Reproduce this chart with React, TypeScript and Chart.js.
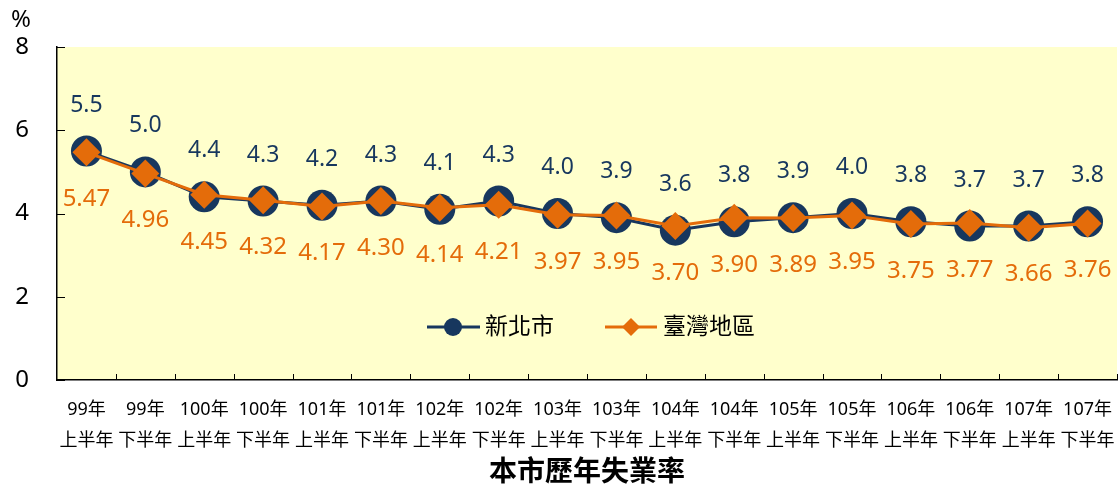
import React, { useEffect, useRef } from "react";
import { Chart, registerables } from "chart.js";

Chart.register(...registerables);

const yearLabels = ["99年","99年","100年","100年","101年","101年","102年","102年","103年","103年","104年","104年","105年","105年","106年","106年","107年","107年"];
const halfLabels = ["上半年","下半年","上半年","下半年","上半年","下半年","上半年","下半年","上半年","下半年","上半年","下半年","上半年","下半年","上半年","下半年","上半年","下半年"];
const newTaipei = [5.5,5.0,4.4,4.3,4.2,4.3,4.1,4.3,4.0,3.9,3.6,3.8,3.9,4.0,3.8,3.7,3.7,3.8];
const taiwan = [5.47,4.96,4.45,4.32,4.17,4.30,4.14,4.21,3.97,3.95,3.70,3.90,3.89,3.95,3.75,3.77,3.66,3.76];
const yTicks = [0,2,4,6,8];
const seriesNames = ["新北市","臺灣地區"];
const chartTitle = "本市歷年失業率";
const unitLabel = "%";

const NAVY = "#17375E";
const ORANGE = "#E46C0A";
const FONT = "'Noto Sans', 'Noto Sans CJK TC', sans-serif";

export default function App() {
  const ref = useRef<HTMLCanvasElement>(null);
  useEffect(() => {
    if (!ref.current) return;
    const decor = {
      id: "decor",
      beforeDraw(chart: any) {
        const { ctx, chartArea } = chart;
        ctx.save();
        ctx.fillStyle = "#FFFFCC";
        ctx.fillRect(chartArea.left, chartArea.top, chartArea.right - chartArea.left, chartArea.bottom - chartArea.top);
        ctx.restore();
      },
      afterDraw(chart: any) {
        const { ctx, chartArea, scales } = chart;
        const ys = scales.y;
        ctx.save();
        ctx.strokeStyle = "#000";
        ctx.lineWidth = 1;
        const n = yearLabels.length;
        const w = (chartArea.right - chartArea.left) / n;
        for (let i = 1; i <= n; i++) {
          const x = Math.round(chartArea.left + i * w) + 0.5;
          ctx.beginPath();
          ctx.moveTo(x, chartArea.bottom);
          ctx.lineTo(x, chartArea.bottom - 6);
          ctx.stroke();
        }
        yTicks.forEach((v) => {
          const y = Math.round(ys.getPixelForValue(v)) + 0.5;
          ctx.beginPath();
          ctx.moveTo(chartArea.left, y);
          ctx.lineTo(chartArea.left + 8, y);
          ctx.stroke();
        });
        ctx.fillStyle = "#000";
        ctx.font = `24px ${FONT}`;
        ctx.textAlign = "center";
        ctx.textBaseline = "middle";
        ctx.fillText(unitLabel, 21, 20);
        ctx.font = `bold 28px ${FONT}`;
        ctx.fillText(chartTitle, (chartArea.left + chartArea.right) / 2, 473);
        const ly = 327;
        ctx.lineWidth = 3;
        ctx.strokeStyle = NAVY;
        ctx.beginPath(); ctx.moveTo(427, ly); ctx.lineTo(480, ly); ctx.stroke();
        ctx.fillStyle = NAVY;
        ctx.beginPath(); ctx.arc(453, ly, 9, 0, Math.PI * 2); ctx.fill();
        ctx.strokeStyle = ORANGE;
        ctx.beginPath(); ctx.moveTo(605, ly); ctx.lineTo(657, ly); ctx.stroke();
        ctx.fillStyle = ORANGE;
        ctx.beginPath(); ctx.moveTo(631, ly - 9); ctx.lineTo(640, ly); ctx.lineTo(631, ly + 9); ctx.lineTo(622, ly); ctx.closePath(); ctx.fill();
        ctx.fillStyle = "#000";
        ctx.font = `23px ${FONT}`;
        ctx.textAlign = "left";
        ctx.fillText(seriesNames[0], 485, ly);
        ctx.fillText(seriesNames[1], 663, ly);
        ctx.restore();
      },
      afterDatasetsDraw(chart: any) {
        const { ctx } = chart;
        ctx.save();
        ctx.textAlign = "center";
        ctx.textBaseline = "middle";
        const m0 = chart.getDatasetMeta(0);
        const m1 = chart.getDatasetMeta(1);
        ctx.font = `23px ${FONT}`;
        ctx.fillStyle = NAVY;
        m0.data.forEach((p: any, i: number) => {
          ctx.fillText(newTaipei[i].toFixed(1), p.x, p.y - 46);
        });
        ctx.font = `24px ${FONT}`;
        ctx.fillStyle = ORANGE;
        m1.data.forEach((p: any, i: number) => {
          ctx.fillText(taiwan[i].toFixed(2), p.x, p.y + 47);
        });
        ctx.restore();
      },
    };
    const chart = new Chart(ref.current, {
      type: "line",
      data: {
        labels: yearLabels.map((y, i) => [y, halfLabels[i]]),
        datasets: [
          {
            label: seriesNames[0],
            data: newTaipei,
            borderColor: NAVY,
            backgroundColor: NAVY,
            borderWidth: 3,
            pointRadius: 15.5,
            pointBorderWidth: 0,
            pointStyle: "circle",
            order: 2,
          },
          {
            label: seriesNames[1],
            data: taiwan,
            borderColor: ORANGE,
            backgroundColor: ORANGE,
            borderWidth: 3,
            pointRadius: 14,
            pointBorderWidth: 0,
            pointStyle: "rectRot",
            order: 1,
          },
        ],
      },
      options: {
        responsive: false,
        animation: false,
        layout: { autoPadding: false, padding: { left: 0, right: 2, top: 47, bottom: 0 } },
        plugins: { legend: { display: false }, tooltip: { enabled: false }, title: { display: false } },
        scales: {
          x: {
            offset: true,
            grid: { display: true, drawOnChartArea: false, drawTicks: true, tickLength: 15, color: "rgba(0,0,0,0)" },
            border: { display: true, color: "#000", width: 1.5 },
            ticks: { color: "#000", font: { family: FONT, size: 18, lineHeight: 1.7 }, padding: 0, maxRotation: 0, autoSkip: false },
            afterFit: (s: any) => { s.height = 109; s.paddingLeft = 0; s.paddingRight = 0; },
          },
          y: {
            min: 0,
            max: 8,
            grid: { display: false, drawTicks: false },
            border: { display: true, color: "#000", width: 1.5 },
            ticks: { stepSize: 2, color: "#000", font: { family: FONT, size: 24 }, padding: 28 },
            afterFit: (s: any) => { s.width = 57; },
          },
        },
      },
      plugins: [decor],
    });
    return () => chart.destroy();
  }, []);
  return (
    <div style={{ position: "absolute", left: 0, top: 0, width: 1119, height: 489 }}>
      <canvas ref={ref} width={1119} height={489} style={{ display: "block" }} />
    </div>
  );
}
